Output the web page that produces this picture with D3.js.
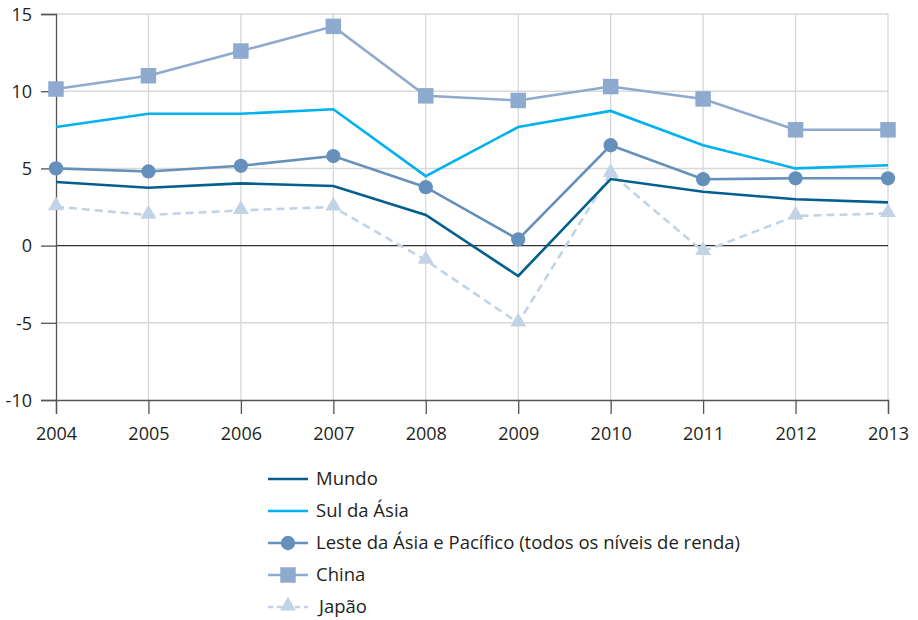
<!DOCTYPE html>
<html><head><meta charset="utf-8">
<script src="https://cdn.jsdelivr.net/npm/d3@7"></script>
<style>
html,body{margin:0;padding:0;background:#fff;}
svg text{font-family:"Open Sans","Noto Sans",sans-serif;fill:#231f20;}
</style></head>
<body>
<svg id="chart" width="918" height="620"></svg>
<script>
const years = [2004,2005,2006,2007,2008,2009,2010,2011,2012,2013];
const yTicks = [-10,-5,0,5,10,15];
const mundo = [4.12,3.75,4.03,3.86,1.98,-1.97,4.31,3.49,3.0,2.8];
const sulAsia = [7.68,8.54,8.54,8.83,4.5,7.68,8.72,6.5,5.0,5.2];
const lesteAsia = [5.0,4.8,5.17,5.8,3.78,0.4,6.5,4.3,4.36,4.36];
const china = [10.14,11.0,12.6,14.2,9.7,9.4,10.3,9.5,7.5,7.5];
const japao = [2.52,1.98,2.28,2.5,-0.95,-5.0,4.68,-0.38,1.92,2.09];
const seriesNames = ["Mundo","Sul da Ásia","Leste da Ásia e Pacífico (todos os níveis de renda)","China","Japão"];

const series = [
  {name:seriesNames[4], values:japao, color:"#c3d3e6", marker:"triangle", dash:"8,5"},
  {name:seriesNames[3], values:china, color:"#8eaacf", marker:"square"},
  {name:seriesNames[2], values:lesteAsia, color:"#6590bb", marker:"circle"},
  {name:seriesNames[1], values:sulAsia, color:"#00b1ef", marker:null},
  {name:seriesNames[0], values:mundo, color:"#035f8f", marker:null}
];

const svg = d3.select("#chart");
const x = d3.scaleLinear().domain([2004,2013]).range([56,888]);
const y = d3.scaleLinear().domain([-10,15]).range([400,14]);

// grid
const g = svg.append("g");
g.selectAll(".hg").data(yTicks.filter(d=>d!==0 && d!==-10)).enter().append("line")
  .attr("x1",56).attr("x2",888).attr("y1",d=>y(d)).attr("y2",d=>y(d))
  .attr("stroke","#d9d9d9").attr("stroke-width",1.5);
g.selectAll(".vg").data(years.slice(1)).enter().append("line")
  .attr("x1",d=>x(d)).attr("x2",d=>x(d)).attr("y1",14).attr("y2",400)
  .attr("stroke","#d4d4d4").attr("stroke-width",1.2);
g.append("line").attr("x1",56).attr("x2",888).attr("y1",y(0)).attr("y2",y(0))
  .attr("stroke","#333").attr("stroke-width",1.3);

// axes
const yAxis = d3.axisLeft(y).tickValues(yTicks).tickSize(15).tickPadding(9).tickFormat(d3.format("d"));
const ya = svg.append("g").attr("transform","translate(56,0)").call(yAxis);
ya.select(".domain").attr("stroke","#555").attr("stroke-width",1.3);
ya.selectAll(".tick line").attr("stroke","#555").attr("stroke-width",1.3);
ya.selectAll("text").style("font-size","18px").attr("fill","#231f20").attr("dy","0.35em").text(d=>d<0?"-"+Math.abs(d):d);

const xAxis = d3.axisBottom(x).tickValues(years).tickSize(14).tickPadding(13).tickFormat(d3.format("d"));
const xa = svg.append("g").attr("transform","translate(0,400)").call(xAxis);
xa.select(".domain").attr("stroke","#555").attr("stroke-width",1.3);
xa.selectAll(".tick line").attr("stroke","#555").attr("stroke-width",1.3);
xa.selectAll("text").style("font-size","18px").attr("fill","#231f20");

// lines
const line = d3.line().x((d,i)=>x(years[i])).y(d=>y(d));
const sym = {circle:d3.symbol().type(d3.symbolCircle).size(160),
             square:d3.symbol().type(d3.symbolSquare).size(240),
             triangle:d3.symbol().type(d3.symbolTriangle).size(110)};
series.forEach(s=>{
  svg.append("path").datum(s.values).attr("d",line).attr("fill","none")
    .attr("stroke",s.color).attr("stroke-width",2.6)
    .attr("stroke-dasharray",s.dash||null);
  if(s.marker){
    svg.selectAll(null).data(s.values).enter().append("path")
      .attr("d",sym[s.marker])
      .attr("transform",(d,i)=>`translate(${x(years[i])},${y(d)+(s.marker==="triangle"?-1:0)})`)
      .attr("fill",s.color);
  }
});

// legend
const legendOrder = [series[4],series[3],series[2],series[1],series[0]];
const lg = svg.append("g");
legendOrder.forEach((s,i)=>{
  const cy = 479 + i*32;
  lg.append("line").attr("x1",268).attr("x2",308).attr("y1",cy).attr("y2",cy)
    .attr("stroke",s.color).attr("stroke-width",2.6).attr("stroke-dasharray",s.dash?"5,4":null);
  if(s.marker){
    lg.append("path").attr("d",sym[s.marker]).attr("transform",`translate(288,${cy+(s.marker==="triangle"?-1:0)})`).attr("fill",s.color);
  }
  lg.append("text").attr("x", s.marker==="triangle"?319:316).attr("y",cy).attr("dy","0.35em")
    .style("font-size","18.5px").text(s.name);
});
</script>
</body></html>
